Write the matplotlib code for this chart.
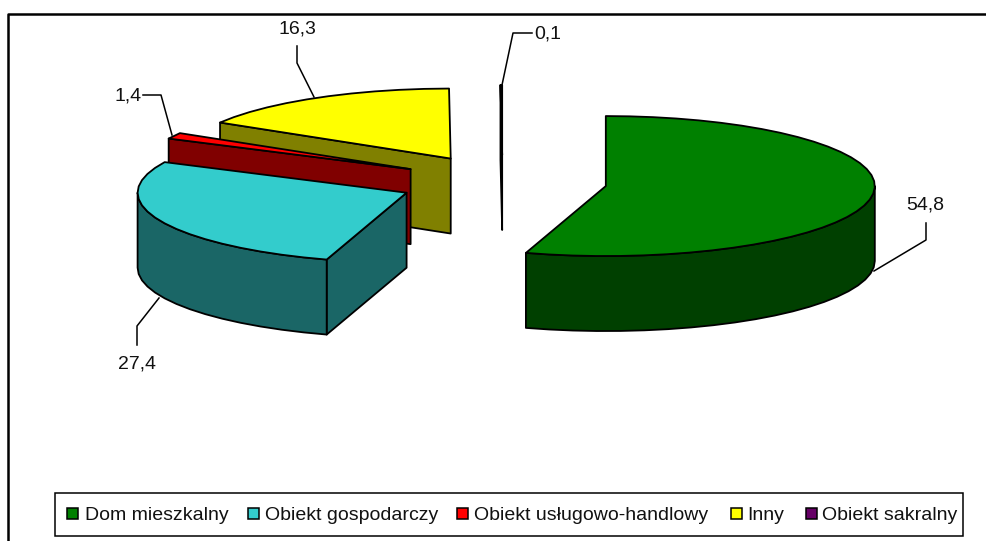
import matplotlib
matplotlib.use('Agg')
import matplotlib.pyplot as plt
from matplotlib.patches import Polygon, Rectangle
import numpy as np

plt.rcParams['font.family'] = ['Liberation Sans', 'DejaVu Sans']

categories = ['Dom mieszkalny', 'Obiekt gospodarczy', 'Obiekt usługowo-handlowy', 'Inny', 'Obiekt sakralny']
values = [54.8, 27.4, 1.4, 16.3, 0.1]
value_labels = ['54,8', '27,4', '1,4', '16,3', '0,1']
top_colors = ['#008000', '#33CCCC', '#FF0000', '#FFFF00', '#660066']
side_colors = ['#004000', '#1A6666', '#800000', '#808000', '#330033']

# pie layout, in pixels
cx, cy = 502.5, 182
rx, ry = 269, 70
depth = 75
explode_x, explode_y = 104.5, 27
line_w = 1.3

# leader lines and label spots, same order as categories
leaders = [
    [(926, 223), (926, 240), (874, 271)],
    [(137, 345), (137, 326), (159, 298)],
    [(143, 95), (161, 95), (172, 135)],
    [(297, 46), (297, 63), (314, 97)],
    [(532, 33), (513, 33), (502, 85)],
]
label_pos = [(925, 205, 'center'), (137, 364, 'center'), (142, 96, 'right'),
             (297, 29, 'center'), (534, 34, 'left')]

# legend positions
legend_box = (55, 493, 908, 43)
swatch_x = [67, 248, 457, 731, 806]
text_x = [85, 265, 474, 747, 822]


def rim(x0, y0, a, b):
    # angles in degrees, clockwise from the top of the pie
    n = max(int(abs(b - a) / 5), 1) + 1
    t = np.radians(np.linspace(a, b, n))
    return np.column_stack([x0 + rx * np.sin(t), y0 - ry * np.cos(t)])


fig = plt.figure(figsize=(9.87, 5.41), dpi=100)
ax = fig.add_axes([0, 0, 1, 1])
ax.set_xlim(0, 987)
ax.set_ylim(541, 0)
ax.axis('off')

# outer frame, only left and top are inside the picture
ax.plot([8, 8, 987], [541, 14, 14], color='black', lw=1.8)

edges = np.cumsum([0] + values) / sum(values) * 360

# back slices first, so the front ones cover them
for i in [4, 3, 2, 1, 0]:
    a, b = edges[i], edges[i + 1]
    mid = np.radians((a + b) / 2)
    x0 = cx + explode_x * np.sin(mid)
    y0 = cy - explode_y * np.cos(mid)

    # flat faces of the cut
    if 180 < a < 360:
        p = rim(x0, y0, a, a)[0]
        face = [(x0, y0), p, (p[0], p[1] + depth), (x0, y0 + depth)]
        ax.add_patch(Polygon(face, fc=side_colors[i], ec='black', lw=line_w, joinstyle='round'))
    if 0 < b < 180:
        p = rim(x0, y0, b, b)[0]
        face = [(x0, y0), p, (p[0], p[1] + depth), (x0, y0 + depth)]
        ax.add_patch(Polygon(face, fc=side_colors[i], ec='black', lw=line_w, joinstyle='round'))

    # round wall, only the front half shows
    lo, hi = max(a, 90), min(b, 270)
    if lo < hi:
        arc = rim(x0, y0, lo, hi)
        wall = np.vstack([arc, arc[::-1] + [0, depth]])
        ax.add_patch(Polygon(wall, fc=side_colors[i], ec='black', lw=line_w, joinstyle='round'))

    top = np.vstack([[x0, y0], rim(x0, y0, a, b)])
    ax.add_patch(Polygon(top, fc=top_colors[i], ec='black', lw=line_w, joinstyle='round'))

for i in range(len(values)):
    xs, ys = zip(*leaders[i])
    ax.plot(xs, ys, color='black', lw=1.1)
    lx, ly, ha = label_pos[i]
    ax.text(lx, ly, value_labels[i], ha=ha, va='center', fontsize=14, color='#111111')

# legend
ax.add_patch(Rectangle(legend_box[:2], legend_box[2], legend_box[3], fc='white', ec='black', lw=1.1))
for i in range(len(categories)):
    ax.add_patch(Rectangle((swatch_x[i], 508), 11, 11, fc=top_colors[i], ec='black', lw=1.1))
    ax.text(text_x[i], 515.5, categories[i], ha='left', va='center', fontsize=14, color='#111111')

fig.savefig('out.png', dpi=100)
